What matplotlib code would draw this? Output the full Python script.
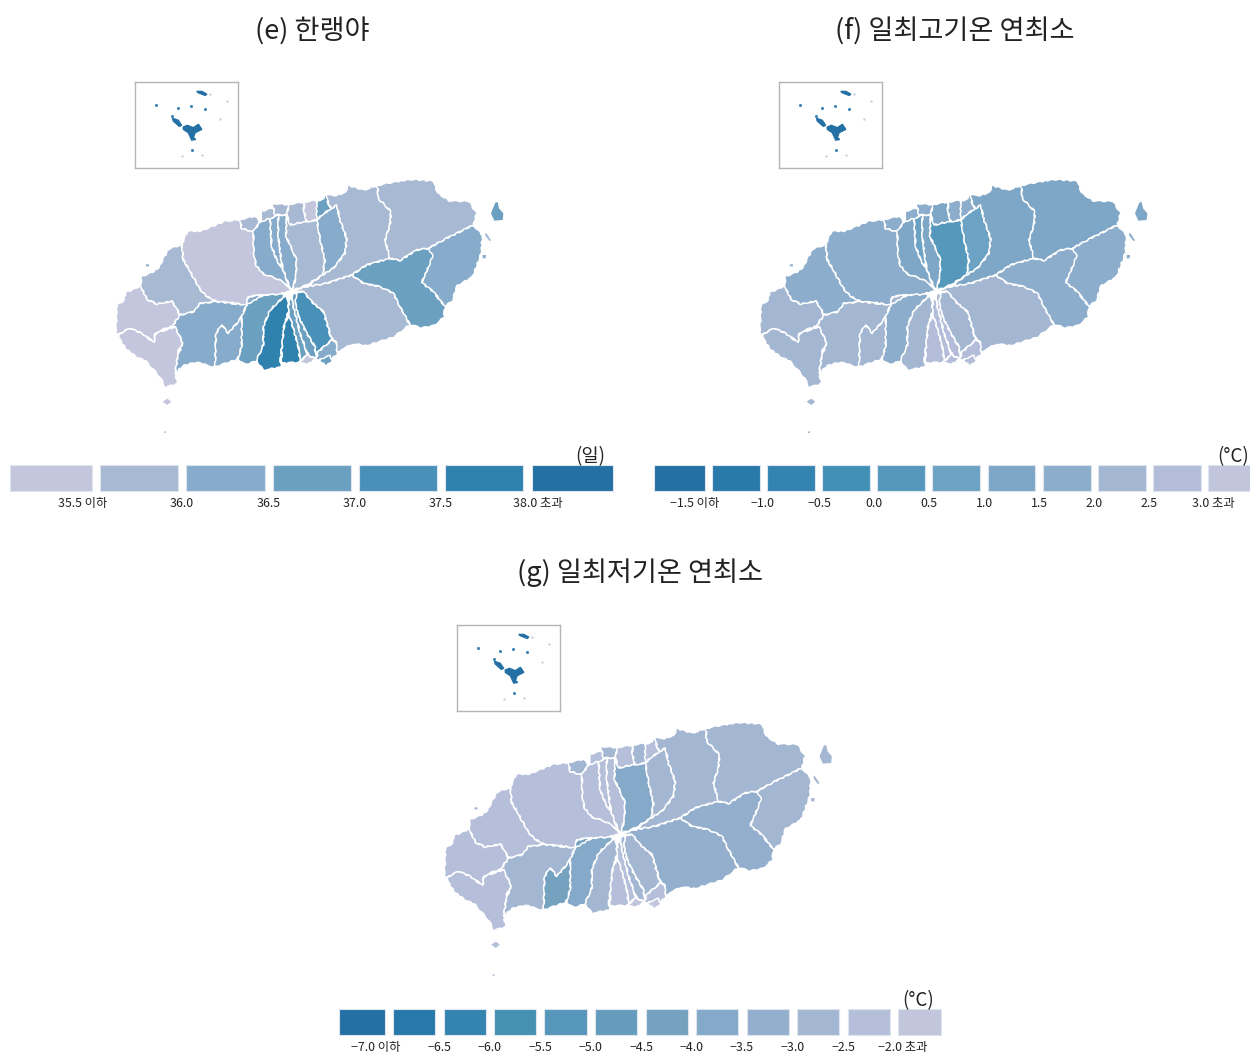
import matplotlib
matplotlib.use('Agg')
import matplotlib.pyplot as plt
from matplotlib.colors import BoundaryNorm, ListedColormap
from matplotlib.patches import Polygon

plt.rcParams['font.family'] = ['Noto Sans CJK KR', 'DejaVu Sans']

# outlines (units = 3x pixels of one map panel)
west = [(47,490),(50,440),(50,405),(73,390),(76,368),(105,356),(122,345),(132,370),(142,388),(170,402),(192,398),(215,393),(228,412),(240,435),(228,452),(218,468),(190,478),(165,490),(162,516),(125,490),(90,475),(58,492)]
southwest = [(58,492),(90,475),(125,490),(162,518),(168,490),(195,480),(225,470),(238,495),(248,518),(236,540),(232,565),(226,610),(232,642),(195,652),(183,625),(163,602),(138,574),(108,560),(78,537),(58,507)]
hangyeong = [(122,345),(124,320),(158,306),(176,293),(193,260),(208,236),(245,223),(250,270),(265,295),(278,318),(300,358),(322,380),(350,395),(322,398),(300,400),(282,425),(240,435),(228,412),(215,393),(192,398),(170,402),(142,388),(132,370)]
aewol = [(245,223),(263,183),(300,183),(340,168),(375,153),(420,148),(425,175),(460,185),(462,250),(468,285),(490,312),(520,322),(550,335),(577,362),(530,375),(490,375),(445,380),(440,405),(395,398),(350,395),(322,380),(300,358),(278,318),(265,295),(250,270)]
oedo = [(420,148),(445,143),(465,138),(480,155),(460,185),(425,175)]
nojeong = [(480,155),(510,145),(515,230),(530,270),(550,300),(560,330),(577,362),(550,335),(520,322),(490,312),(468,285),(462,250),(460,185)]
narrow_w = [(510,145),(535,135),(535,200),(545,280),(550,300),(530,270),(515,230)]
narrow_e = [(535,135),(560,135),(558,200),(575,235),(590,270),(588,320),(577,362),(560,330),(550,300),(545,280),(535,200)]
ara = [(560,135),(570,165),(610,155),(650,150),(655,175),(665,230),(675,270),(668,315),(620,345),(577,362),(588,320),(590,270),(575,235),(558,200)]
bonggae = [(650,150),(665,135),(695,115),(710,105),(720,150),(740,205),(735,250),(700,295),(668,315),(675,270),(665,230),(655,175)]
samyang = [(650,93),(672,86),(680,70),(685,105),(695,115),(665,135),(650,150),(645,135)]
shore_1 = [(480,155),(487,123),(520,113),(525,135),(535,135),(510,145)]
shore_2 = [(518,100),(555,103),(567,103),(560,135),(535,135),(525,135),(520,113)]
shore_3 = [(567,103),(610,96),(612,125),(620,155),(610,155),(570,165),(560,135)]
shore_4 = [(612,96),(650,90),(650,150),(620,155),(612,125)]
jocheon = [(685,105),(680,70),(700,78),(735,68),(745,46),(790,60),(832,46),(835,85),(873,125),(870,165),(855,210),(870,265),(800,285),(755,315),(680,340),(620,350),(668,315),(700,295),(735,250),(740,205),(720,150),(710,105),(695,115)]
gujwa = [(832,46),(870,38),(930,28),(1002,33),(1012,68),(1050,93),(1107,93),(1130,130),(1120,165),(1040,205),(985,235),(950,240),(900,272),(870,265),(855,210),(870,165),(873,125),(835,85)]
seongsan = [(1120,165),(1147,195),(1144,250),(1117,322),(1072,347),(1057,392),(1035,410),(1000,365),(965,338),(990,280),(985,235),(1040,205)]
pyoseon = [(985,235),(998,255),(990,280),(965,338),(1000,365),(1035,410),(1032,442),(1002,467),(965,474),(930,464),(905,420),(880,370),(840,350),(790,340),(755,315),(800,285),(870,265),(900,272),(950,240)]
namwon = [(755,315),(790,340),(840,350),(880,370),(905,420),(930,464),(880,502),(800,527),(760,522),(725,537),(712,552),(708,515),(695,505),(670,425),(640,400),(610,365),(577,362),(620,350),(680,340)]
east_band = [(590,366),(610,365),(640,400),(670,425),(695,510),(655,545),(648,567),(645,530),(620,490),(596,440),(586,400)]
shore_5 = [(695,510),(708,515),(712,552),(695,567),(665,572),(648,567),(655,545)]
shore_6 = [(660,567),(690,557),(697,572),(680,587),(662,577)]
mid_band_1 = [(572,372),(578,400),(588,440),(600,490),(615,530),(622,555),(600,572),(595,530),(578,470),(568,440),(564,420)]
mid_band_2 = [(578,372),(590,366),(586,400),(596,440),(620,490),(645,530),(648,567),(625,555),(615,530),(600,490),(588,440),(578,400)]
shore_7 = [(600,574),(622,555),(648,567),(625,582),(600,580)]
dark_w = [(560,372),(566,420),(552,470),(545,540),(540,575),(545,592),(490,600),(468,572),(490,525),(490,470),(510,420)]
dark_e = [(566,432),(578,470),(595,530),(600,577),(545,580),(545,540),(552,470)]
south_band = [(490,375),(560,372),(510,420),(490,470),(490,525),(468,574),(435,584),(413,567),(425,530),(425,440),(440,405),(445,380)]
andeok = [(240,435),(282,425),(300,400),(350,395),(440,405),(425,440),(415,455),(385,490),(365,465),(348,490),(345,592),(290,577),(250,587),(226,610),(232,565),(248,518),(225,470),(218,468)]
daejeong = [(425,440),(425,530),(413,567),(345,592),(348,490),(365,465),(385,490),(415,455)]
sliver = [(445,380),(490,375),(440,405)]
udo = [(1186,98),(1193,96),(1197,115),(1210,130),(1208,150),(1183,152),(1173,130)]
gapa = [(188,695),(202,686),(214,695),(202,705)]
islet_1 = [(1155,188),(1161,192),(1173,211),(1168,213),(1156,197)]
islet_2 = [(1148,255),(1158,255),(1157,265),(1148,265)]
islet_3 = [(137,284),(146,282),(147,289),(138,289)]
islet_4 = [(192,785),(198,783),(198,789),(192,789)]

land = [west, southwest, hangyeong, aewol, oedo, nojeong, narrow_w, narrow_e, ara, bonggae, samyang,
        shore_1, shore_2, shore_3, shore_4, jocheon, gujwa, seongsan, pyoseon, namwon, east_band, shore_5,
        shore_6, mid_band_1, mid_band_2, shore_7, dark_w, dark_e, south_band, andeok, daejeong, sliver]
islands = [udo, gapa, islet_1, islet_2, islet_3, islet_4]

# values per region, same order as land then islands
cold_days = [35.3,35.3,35.8,35.2,35.8,36.2,36.3,36.2,35.9,36.2,36.8,
             35.8,35.9,35.7,35.3,35.9,35.8,36.3,36.8,35.9,37.3,36.3,
             36.8,36.7,36.6,35.3,37.8,37.7,36.8,36.3,36.2,36.3,
             36.8,35.3,35.8,36.3,36.3,35.3]
tmax_low = [2.2,2.3,1.8,1.7,1.8,1.2,0.8,1.3,0.2,0.7,1.8,
            1.7,1.8,1.3,1.7,1.2,1.3,1.7,1.8,2.3,2.2,2.8,
            2.8,2.7,2.8,2.8,2.3,2.7,1.8,2.3,2.2,2.3,
            1.2,2.2,1.8,1.7,1.8,2.2]
tmin_low = [-2.3,-2.2,-2.3,-2.3,-2.7,-2.2,-2.3,-2.2,-3.8,-2.7,-2.3,
            -2.3,-2.7,-2.2,-2.7,-2.8,-2.7,-2.8,-3.3,-3.2,-2.8,-2.2,
            -1.8,-2.3,-2.7,-1.8,-2.8,-2.3,-3.7,-2.7,-4.3,-4.3,
            -2.7,-2.3,-2.7,-2.8,-2.7,-2.3]

cold_bins = [35.0, 35.5, 36.0, 36.5, 37.0, 37.5, 38.0, 38.5]
tmax_bins = [-2.0, -1.5, -1.0, -0.5, 0.0, 0.5, 1.0, 1.5, 2.0, 2.5, 3.0, 3.5]
tmin_bins = [-7.5, -7.0, -6.5, -6.0, -5.5, -5.0, -4.5, -4.0, -3.5, -3.0, -2.5, -2.0, -1.5]

cold_colors = ['#c3c6dc', '#a7b9d3', '#87abca', '#6ca0c1', '#4a91b9', '#2f81ae', '#2470a5']
tmax_colors = ['#2470a5', '#2979ab', '#3484b1', '#4390b7', '#5598bc', '#6ca2c4', '#7ea6c6', '#8cadcc', '#a3b6d2', '#b3bdd9', '#c2c6dc']
tmin_colors = ['#2470a5', '#2878ab', '#3484b0', '#4590b3', '#5596ba', '#659cbd', '#74a2bf', '#85a9c9', '#94afcd', '#a4b7d2', '#b5bfda', '#c2c6dd']

cold_labels = ['35.5 이하', '36.0', '36.5', '37.0', '37.5', '38.0 초과']
tmax_labels = ['−1.5 이하', '−1.0', '−0.5', '0.0', '0.5', '1.0', '1.5', '2.0', '2.5', '3.0 초과']
tmin_labels = ['−7.0 이하', '−6.5', '−6.0', '−5.5', '−5.0', '−4.5', '−4.0', '−3.5', '−3.0', '−2.5', '−2.0 초과']

# inset locator map
inset_body = [(160,148),(172,143),(190,150),(205,140),(215,155),(195,165),(190,180),(197,185),(185,187),(175,165),(160,155)]
inset_wing = [(128,122),(145,128),(155,143),(148,146),(130,130)]
inset_strip = [(200,42),(215,42),(230,50),(225,54),(205,46)]
dot_x = [78, 144, 184, 226, 187, 126]
dot_y = [82, 90, 84, 93, 216, 115]
faint_x = [270, 215, 290, 157, 240]
faint_y = [123, 232, 72, 233, 50]

W, H = 1250, 1054
fig = plt.figure(figsize=(W / 100, H / 100), dpi=100)


def px_axes(x0, y0, x1, y1):
    ax = fig.add_axes([x0 / W, 1 - y1 / H, (x1 - x0) / W, (y1 - y0) / H])
    ax.axis('off')
    return ax


def draw_map(dx, dy, values, bins, colors):
    ax = px_axes(100 + dx, 170 + dy, 520 + dx, 450 + dy)
    ax.set_xlim(0, 1260)
    ax.set_ylim(840, 0)
    cmap = ListedColormap(colors)
    norm = BoundaryNorm(bins, cmap.N)
    for shape, v in zip(land, values):
        p = Polygon(shape, closed=True, facecolor=cmap(norm(v)), edgecolor='white', linewidth=1.1, joinstyle='round')
        p.set_sketch_params(scale=0.6, length=10, randomness=3)
        ax.add_patch(p)
    for shape, v in zip(islands, values[len(land):]):
        ax.add_patch(Polygon(shape, closed=True, facecolor=cmap(norm(v)), edgecolor='none'))


def draw_inset(x0, y0):
    ax = fig.add_axes([x0 / W, 1 - (y0 + 86) / H, 103 / W, 86 / H])
    ax.set_xlim(16, 323)
    ax.set_ylim(270, 14)
    ax.set_xticks([])
    ax.set_yticks([])
    for s in ax.spines.values():
        s.set_color('#b5b5b5')
        s.set_linewidth(1)
    for shape in (inset_body, inset_wing, inset_strip):
        ax.add_patch(Polygon(shape, closed=True, facecolor='#2470a5', edgecolor='#2470a5', linewidth=1))
    ax.scatter(dot_x, dot_y, s=5, color='#3f86b3', linewidths=0)
    ax.scatter(faint_x, faint_y, s=3, color='#c5d3e3', linewidths=0)


def draw_legend(y0, y1, lefts, rights, colors, labels, label_x, unit, unit_x):
    ax = px_axes(0, y0 - 25, W, y1 + 25)
    ax.set_xlim(0, W)
    ax.set_ylim(y1 + 25, y0 - 25)
    ax.bar(lefts, y1 - y0, width=[r - l for l, r in zip(lefts, rights)], bottom=y0, align='edge',
           color=colors, edgecolor='#dde6f0', linewidth=0.8)
    for x, t in zip(label_x, labels):
        ax.text(x, y1 + 12.5, t, ha='center', va='center', fontsize=8.9, color='#222222')
    ax.text(unit_x, y0 - 8, unit, ha='center', va='center', fontsize=13.5, color='#222222')


fig.text(312 / W, 1 - 31 / H, '(e) 한랭야', ha='center', va='center', fontsize=19.6, color='#222222')
fig.text(955 / W, 1 - 31 / H, '(f) 일최고기온 연최소', ha='center', va='center', fontsize=19.6, color='#222222')
fig.text(640 / W, 1 - 573 / H, '(g) 일최저기온 연최소', ha='center', va='center', fontsize=19.6, color='#222222')

draw_map(0, 0, cold_days, cold_bins, cold_colors)
draw_map(644, 0, tmax_low, tmax_bins, tmax_colors)
draw_map(328.5, 543, tmin_low, tmin_bins, tmin_colors)

draw_inset(135, 82)
draw_inset(779, 82)
draw_inset(457, 625)

draw_legend(465, 491,
            [10, 100, 186, 273, 359, 445, 532],
            [92, 178, 265, 351, 437, 523, 613],
            cold_colors, cold_labels, [83, 182, 268.5, 354.5, 441, 538], '(일)', 590)
draw_legend(465, 491,
            [654, 712, 767, 822, 877, 932, 988, 1043, 1098, 1153, 1208],
            [705, 760, 815, 870, 925, 980, 1035, 1091, 1146, 1201, 1250],
            tmax_colors, tmax_labels, [695, 763, 819, 874, 929, 984, 1039, 1094, 1149, 1213], '(°C)', 1233)
draw_legend(1009, 1035,
            [339, 392.5, 443.5, 493.5, 544, 595, 645.5, 696, 746.5, 797, 847.5, 898],
            [385, 435, 485.5, 536, 587, 637, 687.5, 738, 789, 839, 889.5, 941],
            tmin_colors, tmin_labels, [376, 439, 489.5, 540, 590.5, 641, 691.5, 742, 793, 843, 903], '(°C)', 918)

fig.savefig('out.png', dpi=100, facecolor='white')
